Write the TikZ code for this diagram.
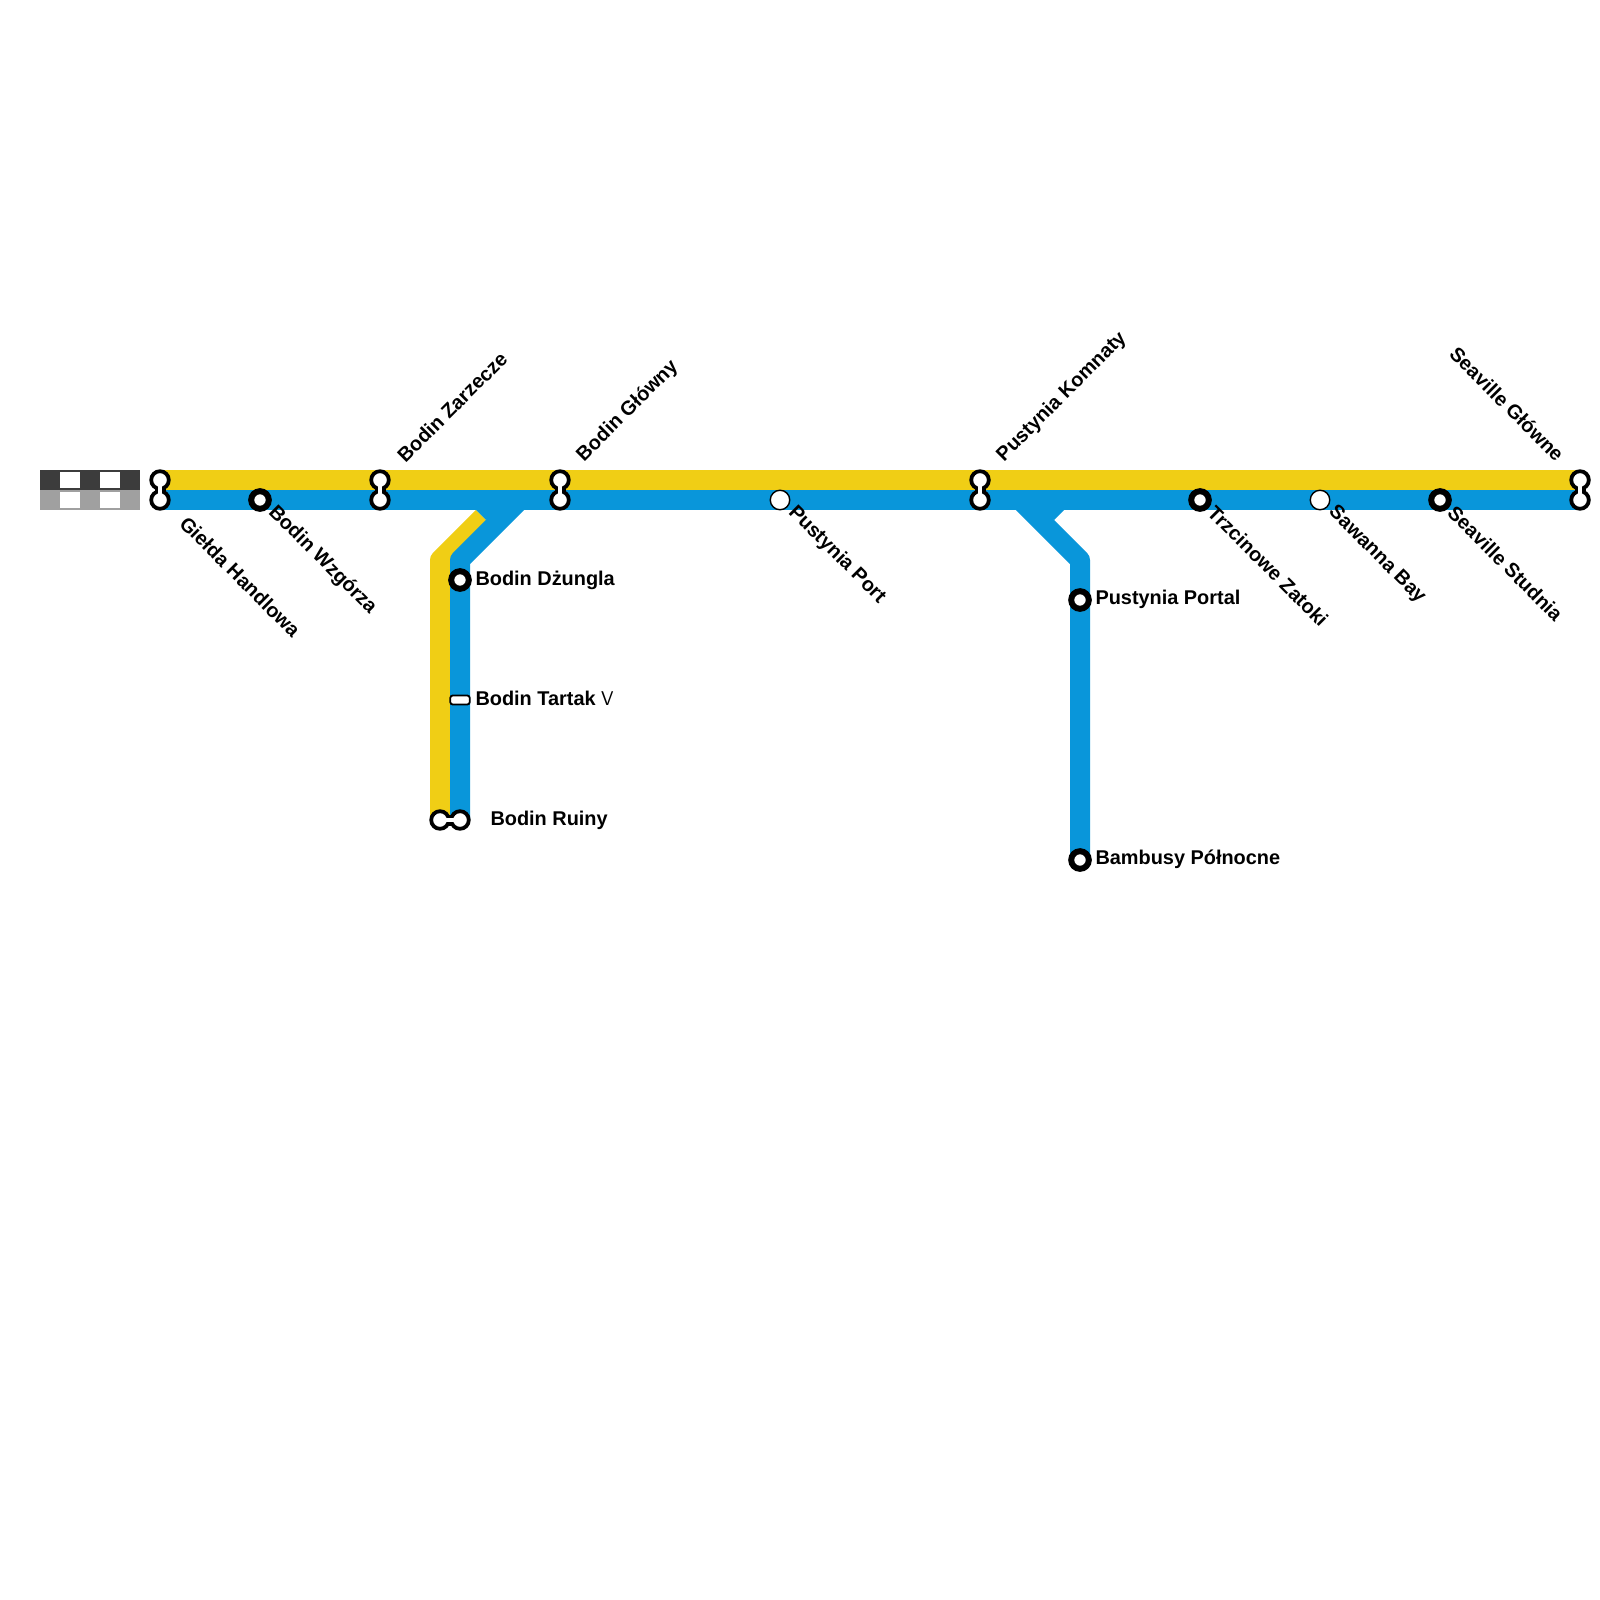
\documentclass[tikz,border=0pt]{standalone}
\usepackage{fontspec}
\setmainfont{Liberation Sans}
\usepackage{tikz}
\usetikzlibrary{
  arrows.meta,
  positioning,
  calc,
  backgrounds
}
\definecolor{LineYellow}{RGB}{240,206,21}
\definecolor{LineBlue}{RGB}{9,150,218}
\definecolor{PairDark}{RGB}{60,60,60}
\definecolor{PairLight}{RGB}{160,160,160}
\tikzset{
  x=1pt,y=-1pt,
  every node/.style={inner sep=0pt,outer sep=0pt},
  yellowtrack/.style={draw=LineYellow,line width=20pt,line join=round},
  bluetrack/.style={draw=LineBlue,line width=20pt,line join=round},
  ringstop/.style={circle,draw=black,fill=white,line width=3.8pt,minimum size=17.6pt,on grid},
  heavystop/.style={circle,draw=black,fill=white,line width=6pt,minimum size=17.6pt,on grid},
  plainstop/.style={circle,draw=black,fill=white,line width=1.4pt,minimum size=19.5pt,on grid},
  slotstop/.style={rectangle,rounded corners=2.5pt,draw=black,fill=white,line width=1.8pt,minimum width=19.5pt,minimum height=9pt,on grid},
  neckouter/.style={draw=black,line width=11pt},
  neckinner/.style={draw=white,line width=4pt},
  sign/.style={font=\fontsize{19.9}{22}\selectfont\bfseries,text=black,anchor=west},
  signdown/.style={sign,rotate=-45},
  signup/.style={sign,rotate=45}
}
\begin{document}
\begin{tikzpicture}
\useasboundingbox (0,0) rectangle (1600,1600);

% main row, yellow over blue
\node[ringstop] (gielda-y) at (160,480) {};
\node[ringstop, below=20pt of gielda-y] (gielda-b) {};
\node[heavystop, right=100pt of gielda-b] (wzgorza) {};
\node[ringstop, right=220pt of gielda-y] (zarzecze-y) {};
\node[ringstop, below=20pt of zarzecze-y] (zarzecze-b) {};
\node[ringstop, right=180pt of zarzecze-y] (glowny-y) {};
\node[ringstop, below=20pt of glowny-y] (glowny-b) {};
\node[plainstop, right=220pt of glowny-b] (port) {};
\node[ringstop, right=420pt of glowny-y] (komnaty-y) {};
\node[ringstop, below=20pt of komnaty-y] (komnaty-b) {};
\node[heavystop, right=220pt of komnaty-b] (zatoki) {};
\node[plainstop, right=120pt of zatoki] (sawanna) {};
\node[heavystop, right=120pt of sawanna] (studnia) {};
\node[ringstop, right=600pt of komnaty-y] (seaville-y) {};
\node[ringstop, below=20pt of seaville-y] (seaville-b) {};

% branches
\node[heavystop] (dzungla) at (460,580) {};
\node[slotstop, below=120pt of dzungla] (tartak) {};
\node[ringstop, below=120pt of tartak] (ruiny-b) {};
\node[ringstop, left=20pt of ruiny-b] (ruiny-y) {};
\node[heavystop] (portal) at (1080,600) {};
\node[heavystop, below=260pt of portal] (bambusy) {};

% bends and ends of the tracks
\coordinate (ybend) at (440,560);
\coordinate (yend) at (483,517);
\coordinate (bbend) at (460,560);
\coordinate (bjoin) at (520,500);
\coordinate (rbend) at (1080,560);
\coordinate (rjoin) at (1020,500);

\begin{scope}[on background layer]
  \draw[yellowtrack] (gielda-y.center) -- (seaville-y.center);
  \draw[yellowtrack] (ruiny-y.center) -- (ybend) -- (yend);
  \draw[bluetrack] (gielda-b.center) -- (seaville-b.center);
  \draw[bluetrack] (ruiny-b.center) -- (bbend) -- (bjoin);
  \draw[bluetrack] (bambusy.center) -- (rbend) -- (rjoin);
  \fill[LineBlue] (486,520) -- (476,510) -- (510,505) -- cycle;
  \fill[LineBlue] (1054,520) -- (1064,510) -- (1030,505) -- cycle;
\end{scope}

% necks of the double stops
\foreach \st in {gielda,zarzecze,glowny,komnaty,seaville,ruiny}{
  \begin{scope}[on background layer]
    \draw[neckouter] (\st-y.center) -- (\st-b.center);
  \end{scope}
  \draw[neckinner] (\st-y.center) -- (\st-b.center);
}

% train pair block
\fill[PairDark] (40,470) rectangle (140,490);
\fill[PairLight] (40,490) rectangle (140,510);
\foreach \px in {60,100}{
  \fill[white] (\px,472) rectangle (\px+20,488);
  \fill[white] (\px,492) rectangle (\px+20,508);
}

% labels
\node[signdown] (lgielda) at ([shift={(23.5,20)}]gielda-b.center) {Giełda Handlowa};
\node[signdown] (lwzgorza) at ([shift={(11.5,9.5)}]wzgorza.center) {Bodin Wzgórza};
\node[signdown] (lport) at ([shift={(11.5,9.5)}]port.center) {Pustynia Port};
\node[signdown] (lzatoki) at ([shift={(11.5,9.5)}]zatoki.center) {Trzcinowe Zatoki};
\node[signdown] (lsawanna) at ([shift={(11.5,9.5)}]sawanna.center) {Sawanna Bay};
\node[signdown] (lstudnia) at ([shift={(11.5,9.5)}]studnia.center) {Seaville Studnia};
\node[signup] (lzarzecze) at ([shift={(20.5,-21.5)}]zarzecze-y.center) {Bodin Zarzecze};
\node[signup] (lglowny) at ([shift={(20.5,-21.5)}]glowny-y.center) {Bodin Główny};
\node[signup] (lkomnaty) at ([shift={(20.5,-21.5)}]komnaty-y.center) {Pustynia Komnaty};
\node[signdown,anchor=east] (lseaville) at ([shift={(-19.5,-22.5)}]seaville-y.center) {Seaville Główne};
\node[sign] (ldzungla) at ([shift={(15.5,0)}]dzungla.center) {Bodin Dżungla};
\node[sign] (ltartak) at ([shift={(15.5,-2)}]tartak.center) {Bodin Tartak {\mdseries\sffamily V}};
\node[sign] (lruiny) at ([shift={(30.5,0)}]ruiny-b.center) {Bodin Ruiny};
\node[sign] (lportal) at ([shift={(15.5,-0.5)}]portal.center) {Pustynia Portal};
\node[sign] (lbambusy) at ([shift={(15.5,-0.5)}]bambusy.center) {Bambusy Północne};
\end{tikzpicture}
\end{document}
